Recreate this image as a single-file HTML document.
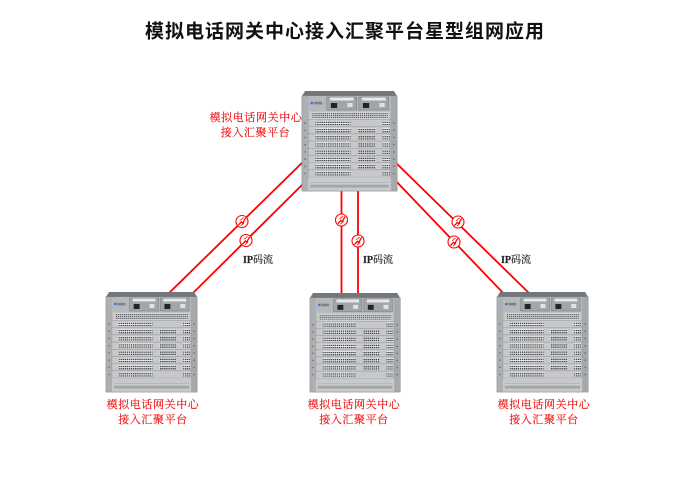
<!DOCTYPE html>
<html>
<head>
<meta charset="utf-8">
<style>
html,body{margin:0;padding:0;background:#fff;}
svg{display:block;}
.t{font-family:"Liberation Sans","Noto Sans CJK SC",sans-serif;font-weight:bold;font-size:19px;letter-spacing:1px;fill:#111;}
.r{font-family:"Liberation Serif","Noto Serif CJK SC",serif;font-size:11px;letter-spacing:0.6px;fill:#ee1111;stroke:#ee1111;stroke-width:0.15;}
.ip{font-family:"Liberation Serif","Noto Serif CJK SC",serif;font-size:10px;fill:#222;stroke:#222;stroke-width:0.15;}
</style>
</head>
<body>
<svg width="700" height="495" viewBox="0 0 700 495" xmlns="http://www.w3.org/2000/svg">
<defs>
  <pattern id="port" width="2.1" height="2.2" patternUnits="userSpaceOnUse">
    <rect width="1.4" height="1.3" fill="#3c3f43"/>
  </pattern>
  <pattern id="vent" width="2" height="2" patternUnits="userSpaceOnUse">
    <rect width="1.2" height="1.2" fill="#55595d"/>
  </pattern>
  <g id="card">
    <rect x="6" y="0" width="80" height="7.2" fill="#c6c8ca" stroke="#8f9295" stroke-width="0.4"/>
    <rect x="13" y="1.4" width="34" height="4.4" fill="#eeeff0"/>
    <rect x="13" y="1.4" width="34" height="4.4" fill="url(#port)"/>
    <rect x="78" y="1.4" width="7" height="4.4" fill="#eeeff0"/>
    <rect x="78" y="1.4" width="7" height="4.4" fill="url(#port)"/>
    <circle cx="3" cy="3.6" r="0.8" fill="#6a6e72"/>
    <circle cx="89" cy="3.6" r="0.8" fill="#6a6e72"/>
  </g>
  <g id="mid">
    <rect x="54" y="1.2" width="17" height="4.8" fill="#e2e3e4"/>
    <rect x="54" y="1.2" width="17" height="4.8" fill="url(#port)"/>
  </g>
  <g id="dev">
    <polygon points="3,0 89,0 92,5 0,5" fill="#73777b"/>
    <rect x="0" y="5" width="92" height="95" fill="#c0c3c6" stroke="#808488" stroke-width="0.7"/>
    <rect x="0.3" y="5" width="6" height="94.7" fill="#adb0b3"/>
    <rect x="85.7" y="5" width="6" height="94.7" fill="#a6a9ac"/>
    <rect x="6" y="5" width="80" height="15" fill="#b6b9bc"/>
    <circle cx="9.5" cy="12" r="1.4" fill="#3a7bd5"/>
    <rect x="11.5" y="10.8" width="8" height="2.6" fill="#7f8387"/>
    <rect x="24" y="6" width="29" height="13" fill="#a3a6a9" stroke="#767a7e" stroke-width="0.5"/>
    <rect x="27" y="6.5" width="23" height="3" fill="#e6e8e9"/>
    <rect x="28" y="12" width="6" height="5" fill="#222426"/>
    <rect x="44" y="12" width="5" height="4" fill="#e0e2e3"/>
    <rect x="55" y="6" width="29" height="13" fill="#a3a6a9" stroke="#767a7e" stroke-width="0.5"/>
    <rect x="58" y="6.5" width="23" height="3" fill="#e6e8e9"/>
    <rect x="59" y="12" width="6" height="5" fill="#222426"/>
    <rect x="75" y="12" width="5" height="4" fill="#e0e2e3"/>
    <rect x="8" y="21" width="76" height="7" fill="#d3d5d7"/>
    <rect x="9" y="22" width="74" height="5" fill="url(#vent)"/>
    <use href="#card" y="28.5"/>
    <use href="#card" y="35.7"/>
    <use href="#card" y="42.9"/>
    <use href="#card" y="50.1"/>
    <use href="#card" y="57.3"/>
    <use href="#card" y="64.5"/>
    <use href="#card" y="71.7"/>
    <use href="#card" y="78.9"/>
    <use href="#mid" y="35.7"/>
    <use href="#mid" y="42.9"/>
    <use href="#mid" y="50.1"/>
    <use href="#mid" y="57.3"/>
    <use href="#mid" y="64.5"/>
    <use href="#mid" y="71.7"/>
    <rect x="6" y="86.2" width="80" height="13.5" fill="#c7c9cb"/>
    <rect x="8" y="91.5" width="76" height="5" fill="#a3a6a9"/>
    <rect x="8" y="92.3" width="76" height="1.2" fill="#d8dadb"/>
  </g>
  <g id="brk">
    <circle r="6" fill="#fff" stroke="#ff0000" stroke-width="1.1"/>
    <path d="M-3.6,3.6 L-0.6,0.4 L0.7,1.7 L3.6,-3.6" fill="none" stroke="#ff0000" stroke-width="1.3"/>
    <path d="M-1.8,-1.2 L1.6,-4" fill="none" stroke="#ff0000" stroke-width="0.8"/>
    <path d="M-1.2,4.2 L2.2,1.2" fill="none" stroke="#ff0000" stroke-width="0.8"/>
  </g>
</defs>

<text class="t" x="345" y="37.5" text-anchor="middle">模拟电话网关中心接入汇聚平台星型组网应用</text>

<g stroke="#ff0000" stroke-width="1.8" fill="none">
  <line x1="307" y1="158" x2="166" y2="296"/>
  <line x1="307" y1="180" x2="190" y2="296"/>
  <line x1="341.5" y1="190" x2="341.5" y2="296"/>
  <line x1="358" y1="190" x2="358" y2="296"/>
  <line x1="393" y1="160" x2="532" y2="296"/>
  <line x1="393" y1="178" x2="506" y2="296"/>
</g>

<use href="#brk" x="242" y="221.5"/>
<use href="#brk" x="246" y="240.5"/>
<use href="#brk" x="341.5" y="220"/>
<use href="#brk" x="358" y="241"/>
<use href="#brk" x="458" y="222"/>
<use href="#brk" x="454" y="242"/>

<text class="ip" x="243" y="263"><tspan font-weight="bold">IP</tspan>码流</text>
<text class="ip" x="363" y="263"><tspan font-weight="bold">IP</tspan>码流</text>
<text class="ip" x="501" y="263"><tspan font-weight="bold">IP</tspan>码流</text>

<use href="#dev" transform="translate(302,91) scale(1.033,1)"/>
<use href="#dev" transform="translate(106,292) scale(0.99,1)"/>
<use href="#dev" transform="translate(310,293) scale(0.98,0.99)"/>
<use href="#dev" transform="translate(497,292) scale(0.99,1)"/>

<text class="r" x="256" y="121" text-anchor="middle">模拟电话网关中心</text>
<text class="r" x="255.5" y="136" text-anchor="middle">接入汇聚平台</text>

<text class="r" x="153" y="408" text-anchor="middle">模拟电话网关中心</text>
<text class="r" x="153" y="423" text-anchor="middle">接入汇聚平台</text>

<text class="r" x="354" y="408" text-anchor="middle">模拟电话网关中心</text>
<text class="r" x="354" y="423" text-anchor="middle">接入汇聚平台</text>

<text class="r" x="544" y="408" text-anchor="middle">模拟电话网关中心</text>
<text class="r" x="544" y="423" text-anchor="middle">接入汇聚平台</text>
</svg>
</body>
</html>
